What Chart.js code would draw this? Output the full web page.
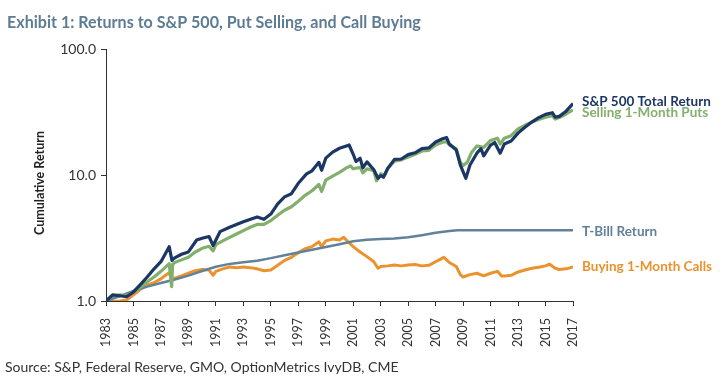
<!DOCTYPE html>
<html>
<head>
<meta charset="utf-8">
<script src="https://cdn.jsdelivr.net/npm/chart.js@4.4.1/dist/chart.umd.min.js"></script>
<style>
  html, body { margin: 0; padding: 0; background: #fff; }
  canvas { display: block; }
</style>
</head>
<body>
<canvas id="chart" width="728" height="391"></canvas>
<script>
// Year ticks on the x axis
const yearTicks = [1983, 1985, 1987, 1989, 1991, 1993, 1995, 1997, 1999, 2001, 2003, 2005, 2007, 2009, 2011, 2013, 2015, 2017];

// S&P 500 Total Return (cumulative)
const spxYears = [1983.0, 1983.5, 1984.0, 1984.5, 1985.0, 1985.5, 1986.0, 1986.5, 1987.0, 1987.6, 1987.8, 1988.0, 1988.5, 1989.0, 1989.6, 1990.0, 1990.5, 1990.8, 1991.0, 1991.3, 1992.0, 1993.0, 1994.0, 1994.5, 1995.0, 1995.5, 1996.0, 1996.5, 1997.0, 1997.6, 1998.0, 1998.5, 1998.7, 1999.0, 1999.5, 2000.0, 2000.5, 2000.7, 2001.0, 2001.2, 2001.5, 2001.7, 2002.0, 2002.5, 2002.8, 2003.0, 2003.2, 2003.5, 2004.0, 2004.5, 2005.0, 2005.5, 2006.0, 2006.5, 2007.0, 2007.5, 2007.8, 2008.0, 2008.5, 2008.8, 2009.2, 2009.5, 2010.0, 2010.3, 2010.5, 2011.0, 2011.3, 2011.7, 2012.0, 2012.5, 2013.0, 2013.5, 2014.0, 2014.5, 2015.0, 2015.5, 2015.7, 2016.0, 2016.5, 2017.0];
const spxValues = [1.00, 1.12, 1.10, 1.08, 1.18, 1.35, 1.55, 1.80, 2.05, 2.70, 2.10, 2.20, 2.35, 2.45, 3.05, 3.15, 3.25, 2.75, 3.05, 3.55, 3.85, 4.25, 4.65, 4.45, 4.90, 5.90, 6.70, 7.10, 8.60, 10.2, 10.8, 12.6, 10.9, 13.6, 15.2, 16.3, 17.0, 17.3, 14.6, 12.8, 13.6, 11.4, 12.7, 11.0, 9.4, 9.9, 9.6, 11.2, 13.3, 13.4, 14.5, 15.0, 16.2, 16.4, 18.3, 19.4, 19.8, 17.6, 15.8, 12.0, 9.4, 12.0, 14.9, 16.2, 14.2, 17.3, 18.1, 14.9, 17.6, 18.6, 21.5, 23.9, 26.3, 28.5, 30.3, 31.2, 28.8, 29.2, 32.1, 36.9];

// Selling 1-Month Puts
const putYears = [1983.0, 1983.5, 1984.0, 1984.5, 1985.0, 1985.5, 1986.0, 1986.5, 1987.0, 1987.6, 1987.78, 1987.85, 1988.0, 1988.5, 1989.0, 1989.5, 1990.0, 1990.5, 1990.8, 1991.0, 1991.5, 1992.0, 1992.5, 1993.0, 1993.5, 1994.0, 1994.5, 1995.0, 1995.5, 1996.0, 1996.5, 1997.0, 1997.5, 1998.0, 1998.5, 1998.7, 1999.0, 1999.5, 2000.0, 2000.5, 2000.8, 2001.0, 2001.5, 2001.7, 2002.0, 2002.5, 2002.7, 2003.0, 2003.3, 2003.5, 2004.0, 2004.5, 2005.0, 2005.5, 2006.0, 2006.5, 2007.0, 2007.5, 2007.8, 2008.0, 2008.5, 2008.8, 2009.0, 2009.3, 2009.6, 2010.0, 2010.5, 2011.0, 2011.5, 2011.7, 2012.0, 2012.5, 2013.0, 2013.5, 2014.0, 2014.5, 2015.0, 2015.5, 2015.7, 2016.0, 2016.5, 2017.0];
const putValues = [1.00, 1.10, 1.12, 1.10, 1.17, 1.28, 1.42, 1.55, 1.72, 1.98, 1.30, 1.95, 2.02, 2.12, 2.22, 2.45, 2.62, 2.72, 2.50, 2.80, 3.00, 3.20, 3.40, 3.62, 3.85, 4.05, 4.05, 4.35, 4.80, 5.25, 5.60, 6.20, 6.90, 7.50, 8.40, 7.40, 9.10, 9.80, 10.5, 11.4, 11.8, 11.2, 11.5, 10.4, 11.2, 10.8, 9.0, 10.2, 10.0, 11.3, 12.9, 13.2, 13.9, 14.6, 15.5, 15.7, 17.3, 18.2, 18.4, 17.3, 16.2, 12.6, 11.9, 12.6, 15.0, 17.0, 16.6, 18.8, 19.6, 17.6, 19.6, 20.5, 23.2, 24.8, 26.3, 27.6, 28.8, 29.5, 27.8, 28.6, 30.5, 32.8];

// T-Bill Return
const tbillYears = [1983, 1984, 1985, 1986, 1987, 1988, 1989, 1990, 1991, 1992, 1993, 1994, 1995, 1996, 1997, 1998, 1999, 2000, 2001, 2002, 2003, 2004, 2005, 2006, 2007, 2008, 2008.6, 2017];
const tbillValues = [1.00, 1.09, 1.20, 1.30, 1.39, 1.48, 1.59, 1.73, 1.87, 1.97, 2.03, 2.09, 2.19, 2.31, 2.43, 2.55, 2.68, 2.82, 2.98, 3.06, 3.10, 3.13, 3.20, 3.33, 3.48, 3.60, 3.64, 3.64];

// Buying 1-Month Calls
const callYears = [1983.0, 1983.5, 1984.0, 1984.5, 1985.0, 1985.5, 1986.0, 1986.5, 1987.0, 1987.6, 1987.8, 1988.0, 1988.5, 1989.0, 1989.5, 1990.0, 1990.5, 1990.8, 1991.0, 1991.5, 1992.0, 1992.5, 1993.0, 1993.5, 1994.0, 1994.5, 1995.0, 1995.5, 1996.0, 1996.5, 1997.0, 1997.5, 1998.0, 1998.5, 1998.7, 1999.0, 1999.5, 2000.0, 2000.3, 2000.7, 2001.0, 2001.5, 2002.0, 2002.5, 2002.8, 2003.0, 2003.5, 2004.0, 2004.5, 2005.0, 2005.5, 2006.0, 2006.5, 2007.0, 2007.6, 2008.0, 2008.5, 2008.8, 2009.0, 2009.5, 2010.0, 2010.5, 2011.0, 2011.5, 2011.8, 2012.0, 2012.5, 2013.0, 2013.5, 2014.0, 2014.5, 2015.0, 2015.3, 2015.7, 2016.0, 2016.5, 2017.0];
const callValues = [1.00, 0.99, 1.00, 1.02, 1.12, 1.24, 1.34, 1.40, 1.50, 1.68, 1.45, 1.52, 1.58, 1.66, 1.74, 1.78, 1.76, 1.60, 1.72, 1.80, 1.86, 1.84, 1.86, 1.84, 1.80, 1.74, 1.76, 1.92, 2.10, 2.22, 2.42, 2.60, 2.70, 2.95, 2.70, 3.00, 3.10, 3.05, 3.20, 2.90, 2.70, 2.45, 2.25, 2.05, 1.82, 1.88, 1.90, 1.93, 1.90, 1.93, 1.95, 1.90, 1.92, 2.05, 2.22, 2.02, 1.88, 1.62, 1.55, 1.62, 1.66, 1.58, 1.66, 1.72, 1.58, 1.58, 1.60, 1.70, 1.76, 1.82, 1.85, 1.90, 1.96, 1.82, 1.78, 1.80, 1.86];

const seriesLabels = ["S&P 500 Total Return", "Selling 1-Month Puts", "T-Bill Return", "Buying 1-Month Calls"];
const seriesColors = ["#1c3764", "#82b06c", "#62819b", "#eb922c"];

const FONT = 'Lato, "Open Sans", sans-serif';

function pairs(xs, ys) {
  return xs.map((x, i) => ({ x: x, y: ys[i] }));
}

// Title, axis title, source and end-of-line labels
const textPlugin = {
  id: "texts",
  afterDraw(chart) {
    const ctx = chart.ctx;
    const area = chart.chartArea;
    const yScale = chart.scales.y;
    ctx.save();

    // title, fit to the reference width
    const title = "Exhibit 1: Returns to S&P 500, Put Selling, and Call Buying";
    ctx.font = "bold 17px " + FONT;
    const w = ctx.measureText(title).width;
    const size = 17 * 414 / w;
    ctx.font = "bold " + size.toFixed(2) + "px " + FONT;
    ctx.fillStyle = "#5d7c94";
    ctx.textBaseline = "alphabetic";
    ctx.textAlign = "left";
    ctx.fillText(title, 7, 28);

    // y axis title
    ctx.save();
    ctx.translate(40, 183);
    ctx.rotate(-Math.PI / 2);
    ctx.font = "bold 12.5px " + FONT;
    ctx.fillStyle = "#222";
    ctx.textAlign = "center";
    ctx.textBaseline = "middle";
    ctx.fillText("Cumulative Return", 0, 0);
    ctx.restore();

    // source
    ctx.font = "14px " + FONT;
    ctx.fillStyle = "#333";
    ctx.textAlign = "left";
    ctx.textBaseline = "middle";
    ctx.fillText("Source: S&P, Federal Reserve, GMO, OptionMetrics IvyDB, CME", 5, 367);

    // line end labels
    const lastVals = [spxValues[spxValues.length - 1], putValues[putValues.length - 1],
                      tbillValues[tbillValues.length - 1], callValues[callValues.length - 1]];
    const nudges = [-2, 3, 1, 0];
    ctx.font = "bold 13.5px " + FONT;
    seriesLabels.forEach((label, i) => {
      ctx.fillStyle = seriesColors[i];
      const y = yScale.getPixelForValue(lastVals[i]) + nudges[i];
      ctx.fillText(label, area.right + 9, y);
    });
    ctx.restore();
  }
};

new Chart(document.getElementById("chart"), {
  type: "line",
  data: {
    datasets: [
      { label: seriesLabels[0], data: pairs(spxYears, spxValues), borderColor: seriesColors[0], borderWidth: 3.2 },
      { label: seriesLabels[1], data: pairs(putYears, putValues), borderColor: seriesColors[1], borderWidth: 3.2 },
      { label: seriesLabels[2], data: pairs(tbillYears, tbillValues), borderColor: seriesColors[2], borderWidth: 2.5 },
      { label: seriesLabels[3], data: pairs(callYears, callValues), borderColor: seriesColors[3], borderWidth: 3 }
    ].map(d => Object.assign(d, { pointRadius: 0, tension: 0, fill: false, borderJoinStyle: "round" }))
  },
  options: {
    responsive: false,
    animation: false,
    layout: { padding: { left: 0, top: 49, right: 155, bottom: 40 } },
    plugins: {
      legend: { display: false },
      tooltip: { enabled: false }
    },
    scales: {
      x: {
        type: "linear",
        min: 1983,
        max: 2017,
        afterBuildTicks: (scale) => { scale.ticks = yearTicks.map(v => ({ value: v })); },
        afterFit: (scale) => { scale.height = 50; },
        ticks: {
          autoSkip: false,
          minRotation: 90,
          maxRotation: 90,
          color: "#333",
          font: { family: FONT, size: 12.5 },
          padding: 12,
          callback: (v) => String(v)
        },
        grid: { drawOnChartArea: false, drawTicks: true, tickLength: 5, color: "#333" },
        border: { display: true, color: "#333", width: 1 }
      },
      y: {
        type: "logarithmic",
        min: 1,
        max: 100,
        afterBuildTicks: (scale) => { scale.ticks = [1, 10, 100].map(v => ({ value: v })); },
        afterFit: (scale) => { scale.width = 106; },
        ticks: {
          color: "#333",
          font: { family: FONT, size: 14 },
          padding: 5,
          callback: (v) => Number(v).toFixed(1)
        },
        grid: { drawOnChartArea: false, drawTicks: true, tickLength: 5, color: "#333" },
        border: { display: true, color: "#333", width: 1 }
      }
    }
  },
  plugins: [textPlugin]
});
</script>
</body>
</html>
